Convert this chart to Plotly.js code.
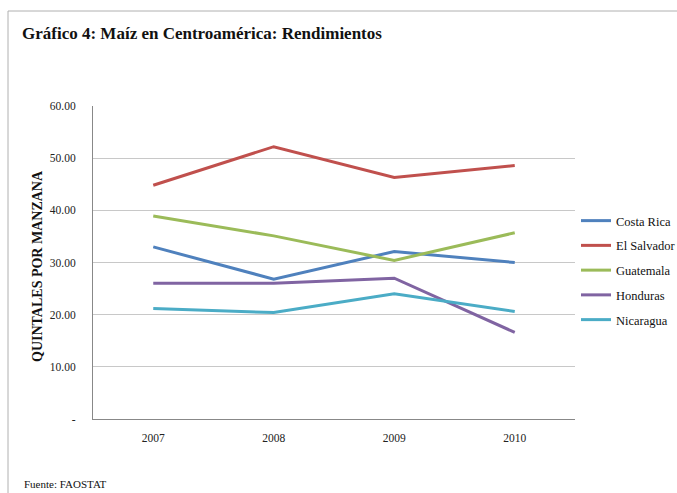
<!DOCTYPE html>
<html>
<head>
<meta charset="utf-8">
<script src="https://cdn.plot.ly/plotly-3.0.1.min.js"></script>
<style>html,body{margin:0;padding:0;background:#fff;}#chart{width:677px;height:493px;}</style>
</head>
<body>
<div id="chart"></div>
<script>
const years = ["2007", "2008", "2009", "2010"];
const costaRica = [33.0, 26.8, 32.1, 30.0];
const elSalvador = [44.8, 52.2, 46.3, 48.6];
const guatemala = [38.9, 35.1, 30.4, 35.7];
const honduras = [26.0, 26.0, 27.0, 16.6];
const nicaragua = [21.2, 20.4, 24.0, 20.6];
const seriesNames = ["Costa Rica", "El Salvador", "Guatemala", "Honduras", "Nicaragua"];
const seriesColors = ["#4F81BD", "#C0504D", "#9BBB59", "#8064A2", "#4BACC6"];
const yTickVals = [0, 10, 20, 30, 40, 50, 60];
const yTickText = ["-", "10.00", "20.00", "30.00", "40.00", "50.00", "60.00"];

const allSeries = [costaRica, elSalvador, guatemala, honduras, nicaragua];
const traces = allSeries.map((vals, i) => ({
  type: "scatter",
  mode: "lines",
  x: years,
  y: vals,
  name: seriesNames[i],
  legendgroup: "g" + i,
  line: {color: seriesColors[i], width: 3}
}));

const serif = "'Liberation Serif', 'Times New Roman', serif";
const L = 93, R = 575, T = 106, B = 419;
const px = v => (v - L) / (R - L);
const py = v => (B - v) / (B - T);

const layout = {
  width: 677, height: 493,
  margin: {l: L, r: 677 - R, t: T, b: 493 - B, pad: 0, autoexpand: false},
  paper_bgcolor: "#fff", plot_bgcolor: "#fff",
  font: {family: serif, color: "#222", size: 11},
  showlegend: true,
  title: {
    text: "<b>Gráfico 4: Maíz en Centroamérica: Rendimientos</b>",
    font: {family: serif, size: 17, color: "#111"},
    xref: "container", yref: "container",
    x: 22 / 677, xanchor: "left",
    y: 1 - 33 / 493, yanchor: "middle"
  },
  xaxis: {
    type: "category",
    range: [-0.5, 3.5],
    showgrid: false,
    showline: true, linecolor: "#888", linewidth: 1,
    ticks: "", tickfont: {family: serif, size: 11.5, color: "#222"},
    ticklabelstandoff: 8,
    zeroline: false, fixedrange: true
  },
  yaxis: {
    range: [0, 60],
    tickvals: yTickVals, ticktext: yTickText,
    showgrid: true, gridcolor: "#c8c8c8", gridwidth: 1,
    showline: true, linecolor: "#888", linewidth: 1,
    ticks: "", tickfont: {family: serif, size: 11.5, color: "#222"},
    ticklabelstandoff: 14,
    zeroline: false,
    fixedrange: true
  },
  legend: {
    xref: "container", yref: "container",
    x: 576 / 677, xanchor: "left",
    y: 1 - 206 / 493, yanchor: "top",
    font: {family: serif, size: 12.5, color: "#111"},
    bgcolor: "rgba(0,0,0,0)",
    borderwidth: 0,
    tracegroupgap: 5.5,
    itemwidth: 30
  },
  annotations: [{
    text: "Fuente: FAOSTAT",
    xref: "paper", yref: "paper",
    x: px(22), y: py(484),
    xanchor: "left", yanchor: "middle",
    showarrow: false,
    font: {family: serif, size: 11, color: "#111"}
  }, {
    text: "<b>QUINTALES POR MANZANA</b>",
    xref: "paper", yref: "paper",
    x: px(37), y: py(266),
    xanchor: "center", yanchor: "middle",
    textangle: -90,
    showarrow: false,
    font: {family: serif, size: 14, color: "#111"}
  }],
  shapes: [
    {type: "line", xref: "paper", yref: "paper", x0: px(8), x1: px(677), y0: py(11), y1: py(11), line: {color: "#b0b0b0", width: 1}},
    {type: "line", xref: "paper", yref: "paper", x0: px(8), x1: px(8), y0: py(11), y1: py(493), line: {color: "#b0b0b0", width: 1}}
  ]
};

Plotly.newPlot("chart", traces, layout, {displayModeBar: false, staticPlot: true});
</script>
</body>
</html>
